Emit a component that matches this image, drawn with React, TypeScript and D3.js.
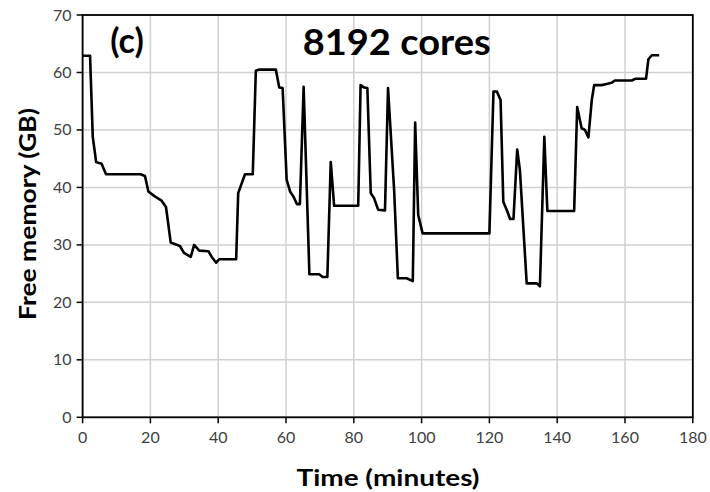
import React from "react";
import * as d3 from "d3";

const timeMinutes: number[] = [
  0, 2.2, 3, 4, 5.6, 6.9, 17.1, 18.4, 19.4, 21.4, 23.3, 24.6, 26, 28.7, 29.9, 31.9, 32.9, 34.4, 37.1, 38.1,
  39.4, 40.3, 45.3, 45.9, 47.9, 50.2, 51.1, 52.1, 57, 58, 59, 60.2, 61.2, 62.2, 63.2, 64.1, 65.2, 66.9, 69.8,
  70.8, 72.2, 73.2, 74.2, 81.3, 82, 83, 84, 85, 86, 87.2, 89.2, 90.1, 91.9, 93, 95.6, 97.4, 98.1, 99, 100.3,
  120, 121.2, 122.2, 123.3, 124.1, 125.3, 126.1, 127.1, 128.2, 129, 131, 134, 134.9, 136.2, 137.1, 145,
  145.9, 147.2, 148.2, 149.2, 150.2, 150.9, 153.1, 154.6, 156, 157, 162, 163, 166.2, 166.9, 167.9, 170.1,
];

const freeMemoryGB: number[] = [
  62.9, 62.9, 48.8, 44.4, 44.1, 42.3, 42.3, 42.0, 39.3, 38.4, 37.7, 36.6, 30.4, 29.8, 28.6, 27.9, 30.0, 29.0, 28.9, 27.9,
  26.9, 27.5, 27.5, 39.0, 42.3, 42.3, 60.3, 60.5, 60.5, 57.4, 57.3, 41.3, 39.3, 38.4, 37.1, 37.1, 57.5, 24.9, 24.9,
  24.4, 24.4, 44.4, 36.8, 36.8, 57.8, 57.4, 57.3, 39.0, 38.1, 36.1, 36.0, 57.3, 39.5, 24.2, 24.2, 23.7, 51.3, 35.2, 32.0,
  32.0, 56.7, 56.7, 55.2, 37.5, 35.8, 34.5, 34.5, 46.6, 43.0, 23.3, 23.3, 22.8, 48.8, 35.9, 35.9,
  54.0, 50.3, 50.0, 48.7, 55.2, 57.8, 57.8, 58.0, 58.2, 58.6, 58.6, 58.9, 58.9, 62.3, 63.0, 63.0,
];

const xTicks: number[] = [0, 20, 40, 60, 80, 100, 120, 140, 160, 180];
const yTicks: number[] = [0, 10, 20, 30, 40, 50, 60, 70];

const panelLabel = "(c)";
const chartTitle = "8192 cores";
const xLabel = "Time (minutes)";
const yLabel = "Free memory (GB)";

export default function App() {
  const W = 710;
  const H = 492;
  const left = 82.6;
  const right = 692.8;
  const top = 15;
  const bottom = 417.3;

  const x = d3.scaleLinear().domain([0, 180]).range([left, right]);
  const y = d3.scaleLinear().domain([0, 70]).range([bottom, top]);

  const pts: [number, number][] = timeMinutes.map((t, i) => [t, freeMemoryGB[i]]);
  const line = d3
    .line<[number, number]>()
    .x((d) => x(d[0]))
    .y((d) => y(d[1]));

  const font = "Lato, 'Open Sans', sans-serif";

  return (
    <svg
      width={W}
      height={H}
      style={{ position: "absolute", left: 0, top: 0, background: "#fff" }}
    >
      <rect x={0} y={0} width={W} height={H} fill="#fff" />
      {xTicks.map((t) => (
        <line key={"gx" + t} x1={x(t)} x2={x(t)} y1={top} y2={bottom} stroke="#d0d0d0" strokeWidth={1.5} />
      ))}
      {yTicks.map((t) => (
        <line key={"gy" + t} x1={left} x2={right} y1={y(t)} y2={y(t)} stroke="#d0d0d0" strokeWidth={1.5} />
      ))}
      <rect x={left} y={top} width={right - left} height={bottom - top} fill="none" stroke="#000" strokeWidth={1.8} />
      {xTicks.map((t) => (
        <line key={"tx" + t} x1={x(t)} x2={x(t)} y1={bottom} y2={bottom + 6} stroke="#000" strokeWidth={1.5} />
      ))}
      {yTicks.map((t) => (
        <line key={"ty" + t} x1={left - 6} x2={left} y1={y(t)} y2={y(t)} stroke="#000" strokeWidth={1.5} />
      ))}
      {xTicks.map((t) => (
        <text key={"lx" + t} x={x(t)} y={bottom + 26} textAnchor="middle" fontFamily={font} fontSize={16} fill="#404040">
          {t}
        </text>
      ))}
      {yTicks.map((t) => (
        <text key={"ly" + t} x={left - 11} y={y(t) + 5.5} textAnchor="end" fontFamily={font} fontSize={16} fill="#404040">
          {t}
        </text>
      ))}
      <path d={line(pts) || ""} fill="none" stroke="#000" strokeWidth={2.6} strokeLinejoin="round" />
      <text x={127} y={53} textAnchor="middle" fontFamily={font} fontWeight="bold" fontSize={34} fill="#000">
        {panelLabel}
      </text>
      <text
        x={396.7}
        y={55}
        textAnchor="middle"
        fontFamily={font}
        fontWeight="bold"
        fontSize={37}
        fill="#000"
        textLength={188}
        lengthAdjust="spacingAndGlyphs"
      >
        {chartTitle}
      </text>
      <text
        x={388}
        y={486}
        textAnchor="middle"
        fontFamily={font}
        fontWeight="bold"
        fontSize={23}
        fill="#000"
        textLength={183}
        lengthAdjust="spacingAndGlyphs"
      >
        {xLabel}
      </text>
      <text
        transform={`translate(36, 214) rotate(-90)`}
        textAnchor="middle"
        fontFamily={font}
        fontWeight="bold"
        fontSize={23}
        fill="#000"
        textLength={212}
        lengthAdjust="spacingAndGlyphs"
      >
        {yLabel}
      </text>
    </svg>
  );
}
